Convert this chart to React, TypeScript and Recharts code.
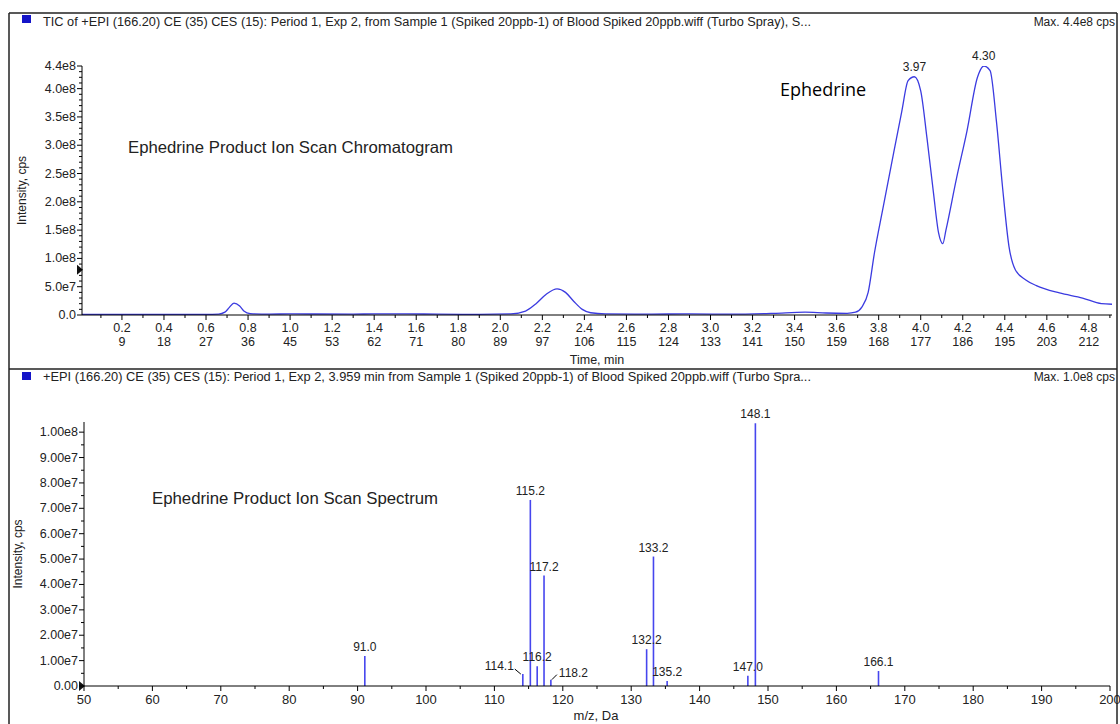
import React from 'react';
import { LineChart, Line, XAxis, YAxis, BarChart, Bar, LabelList, ReferenceDot } from 'recharts';

// TIC chromatogram (time in min, intensity in 1e8 cps)
const ticTimes = [
    0.01, 0.3, 0.6, 0.66, 0.69, 0.71, 0.733, 0.76, 0.78, 0.81, 0.9, 1.0, 1.1, 1.3, 1.4, 1.55, 1.7, 1.9,
    2.05, 2.12, 2.17, 2.22, 2.27, 2.31, 2.35, 2.39, 2.43, 2.5, 2.7, 2.9, 3.1, 3.3, 3.45, 3.55, 3.65,
    3.69, 3.72, 3.75, 3.78, 3.82, 3.86, 3.91, 3.94, 3.97, 4.0, 4.03, 4.06, 4.085, 4.105, 4.12, 4.17,
    4.22, 4.27, 4.3, 4.33, 4.36, 4.39, 4.42, 4.45, 4.5, 4.55, 4.66, 4.77, 4.86, 4.91,
];
const ticIntensity = [
    0.01, 0.012, 0.012, 0.015, 0.05, 0.13, 0.21, 0.16, 0.07, 0.025, 0.015, 0.02, 0.018, 0.015, 0.02, 0.02, 0.015, 0.012,
    0.02, 0.07, 0.2, 0.37, 0.46, 0.4, 0.24, 0.1, 0.04, 0.02, 0.015, 0.02, 0.015, 0.03, 0.05, 0.035, 0.03,
    0.05, 0.14, 0.4, 1.1, 1.88, 2.65, 3.6, 4.14, 4.21, 3.96, 3.12, 2.18, 1.45, 1.26, 1.5, 2.41,
    3.25, 4.2, 4.4, 4.32, 3.43, 2.23, 1.21, 0.8, 0.62, 0.52, 0.39, 0.3, 0.2, 0.19,
];
const ticPeakLabels = ['3.97', '4.30'];

const timeLabels = ['0.2', '0.4', '0.6', '0.8', '1.0', '1.2', '1.4', '1.6', '1.8', '2.0', '2.2', '2.4',
    '2.6', '2.8', '3.0', '3.2', '3.4', '3.6', '3.8', '4.0', '4.2', '4.4', '4.6', '4.8'];
const scanLabels = ['9', '18', '27', '36', '45', '53', '62', '71', '80', '89', '97', '106',
    '115', '124', '133', '141', '150', '159', '168', '177', '186', '195', '203', '212'];
const ticYLabels = ['0.0', '5.0e7', '1.0e8', '1.5e8', '2.0e8', '2.5e8', '3.0e8', '3.5e8', '4.0e8', '4.4e8'];

// product ion spectrum (m/z, intensity in 1e7 cps)
const mzValues = [91.0, 114.1, 115.2, 116.2, 117.2, 118.2, 132.2, 133.2, 135.2, 147.0, 148.1, 166.1];
const mzIntensity = [1.18, 0.47, 7.33, 0.78, 4.35, 0.25, 1.45, 5.1, 0.2, 0.4, 10.35, 0.59];
const mzXLabels = ['50', '60', '70', '80', '90', '100', '110', '120', '130', '140', '150', '160', '170', '180', '190', '200'];
const mzYLabels = ['0.00', '1.00e7', '2.00e7', '3.00e7', '4.00e7', '5.00e7', '6.00e7', '7.00e7', '8.00e7', '9.00e7', '1.00e8'];

const BLUE = '#3b3be0';
const FONT = '"Liberation Sans", Arial, sans-serif';

const ticData = ticTimes.map((t, i) => ({
    t,
    v: ticIntensity[i] * 1e8,
    peak: ticPeakLabels.includes(t.toFixed(2)) ? t.toFixed(2) : '',
}));
const specData = mzValues.map((mz, i) => ({ mz, v: mzIntensity[i] * 1e7, label: mz.toFixed(1) }));

const ticXTicks = Array.from({ length: 49 }, (_, i) => (i + 1) / 10);
const ticYTicks = Array.from({ length: 45 }, (_, i) => i * 1e7);
const specXTicks = Array.from({ length: 31 }, (_, i) => 50 + i * 5);
const specYTicks = Array.from({ length: 21 }, (_, i) => i * 5e6);

const labelSide: Record<string, string> = { '114.1': 'left', '118.2': 'right' };

const TimeTick = ({ x, y, payload }: any) => {
    const idx = timeLabels.indexOf(Number(payload.value).toFixed(1));
    const major = idx >= 0;
    return (
        <g>
            <line x1={x} x2={x} y1={y} y2={y + (major ? 5 : 3)} stroke="#000" />
            {major && (
                <text x={x} y={y + 17} textAnchor="middle" fontSize={12.5} fill="#222" fontFamily={FONT}>
                    {timeLabels[idx]}
                </text>
            )}
            {major && (
                <text x={x} y={y + 31} textAnchor="middle" fontSize={12.5} fill="#222" fontFamily={FONT}>
                    {scanLabels[idx]}
                </text>
            )}
        </g>
    );
};

const TicYTick = ({ x, y, payload }: any) => {
    const lab = ticYLabels.find((l) => Math.round(Number(l) / 1e6) === Math.round(payload.value / 1e6));
    return (
        <g>
            <line x1={x} x2={x - (lab ? 5 : 3)} y1={y} y2={y} stroke="#000" />
            {lab && (
                <text x={x - 6} y={y + 4} textAnchor="end" fontSize={12.5} fill="#222" fontFamily={FONT}>
                    {lab}
                </text>
            )}
        </g>
    );
};

const MzXTick = ({ x, y, payload }: any) => {
    const lab = mzXLabels.find((l) => Number(l) === payload.value);
    return (
        <g>
            <line x1={x} x2={x} y1={y} y2={y + (lab ? 5 : 3)} stroke="#000" />
            {lab && (
                <text x={x} y={y + 18} textAnchor="middle" fontSize={13} fill="#222" fontFamily={FONT}>
                    {lab}
                </text>
            )}
        </g>
    );
};

const MzYTick = ({ x, y, payload }: any) => {
    const lab = mzYLabels.find((l) => Math.round(Number(l) / 1e5) === Math.round(payload.value / 1e5));
    return (
        <g>
            <line x1={x} x2={x - (lab ? 5 : 3)} y1={y} y2={y} stroke="#000" />
            {lab && (
                <text x={x - 6} y={y + 4} textAnchor="end" fontSize={12.5} fill="#222" fontFamily={FONT}>
                    {lab}
                </text>
            )}
        </g>
    );
};

const TicPeakLabel = ({ x, y, value }: any) => {
    if (!value) return null;
    return (
        <text x={x} y={y - 6} textAnchor="middle" fontSize={12} fill="#222" fontFamily={FONT}>
            {value}
        </text>
    );
};

const MzPeakLabel = ({ x, y, width, value }: any) => {
    const cx = x + width / 2;
    const side = labelSide[value];
    if (side === 'left') {
        return (
            <g>
                <line x1={cx - 2} y1={y} x2={cx - 8} y2={y - 5} stroke="#000" />
                <text x={cx - 9} y={y - 4} textAnchor="end" fontSize={12} fill="#222" fontFamily={FONT}>{value}</text>
            </g>
        );
    }
    if (side === 'right') {
        return (
            <g>
                <line x1={cx + 1} y1={y} x2={cx + 6} y2={y - 5} stroke="#000" />
                <text x={cx + 8} y={y - 3} textAnchor="start" fontSize={12} fill="#222" fontFamily={FONT}>{value}</text>
            </g>
        );
    }
    return (
        <text x={cx} y={y - 5} textAnchor="middle" fontSize={12} fill="#222" fontFamily={FONT}>
            {value}
        </text>
    );
};

const Marker = ({ cx, cy }: any) => (
    <polygon points={`${cx - 5},${cy - 5} ${cx + 1},${cy} ${cx - 5},${cy + 5}`} fill="#111" />
);

export default function App() {
    return (
        <div style={{ position: 'absolute', left: 0, top: 0, width: 1120, height: 724, background: '#fff', fontFamily: FONT }}>
            <div style={{ position: 'absolute', left: 0, top: 0 }}>
                <LineChart width={1120} height={372} data={ticData} margin={{ top: 66, right: 8, left: 0, bottom: 7 }}>
                    <XAxis
                        dataKey="t"
                        type="number"
                        domain={[0.01, 4.91]}
                        ticks={ticXTicks}
                        interval={0}
                        tick={<TimeTick />}
                        tickLine={false}
                        tickSize={0}
                        tickMargin={0}
                        height={50}
                        axisLine={{ stroke: '#000' }}
                        allowDataOverflow
                    />
                    <YAxis
                        type="number"
                        domain={[0, 4.4e8]}
                        ticks={ticYTicks}
                        interval={0}
                        tick={<TicYTick />}
                        tickLine={false}
                        tickSize={0}
                        tickMargin={0}
                        width={82}
                        axisLine={{ stroke: '#000' }}
                        allowDataOverflow
                        label={{ value: 'Intensity, cps', angle: -90, position: 'insideLeft', offset: 22, style: { textAnchor: 'middle', fontSize: 12, fill: '#222', fontFamily: FONT } }}
                    />
                    <Line type="monotone" dataKey="v" stroke={BLUE} strokeWidth={1.3} dot={false} isAnimationActive={false}>
                        <LabelList dataKey="peak" content={<TicPeakLabel />} />
                    </Line>
                    <ReferenceDot x={0.01} y={8e7} r={0} shape={<Marker />} />
                </LineChart>
            </div>
            <div style={{ position: 'absolute', left: 0, top: 370 }}>
                <BarChart width={1120} height={354} data={specData} margin={{ top: 52, right: 10, left: 0, bottom: 8 }}>
                    <XAxis
                        dataKey="mz"
                        type="number"
                        domain={[50, 200]}
                        ticks={specXTicks}
                        interval={0}
                        tick={<MzXTick />}
                        tickLine={false}
                        tickSize={0}
                        tickMargin={0}
                        height={30}
                        axisLine={{ stroke: '#000' }}
                    />
                    <YAxis
                        type="number"
                        domain={[0, 1.04e8]}
                        ticks={specYTicks}
                        interval={0}
                        tick={<MzYTick />}
                        tickLine={false}
                        tickSize={0}
                        tickMargin={0}
                        width={84}
                        axisLine={{ stroke: '#000' }}
                        allowDataOverflow
                        label={{ value: 'Intensity, cps', angle: -90, position: 'insideLeft', offset: 18, style: { textAnchor: 'middle', fontSize: 12, fill: '#222', fontFamily: FONT } }}
                    />
                    <Bar dataKey="v" fill="#4646ee" barSize={1.6} isAnimationActive={false}>
                        <LabelList dataKey="label" content={<MzPeakLabel />} />
                    </Bar>
                    <ReferenceDot x={50} y={0} r={0} shape={<Marker />} />
                </BarChart>
            </div>
            <svg width={1120} height={724} style={{ position: 'absolute', left: 0, top: 0, pointerEvents: 'none' }} fontFamily={FONT}>
                <line x1={9} y1={13} x2={1117} y2={13} stroke="#222" strokeWidth={1.5} />
                <line x1={9} y1={13} x2={9} y2={724} stroke="#222" strokeWidth={1.5} />
                <line x1={1117} y1={13} x2={1117} y2={724} stroke="#222" strokeWidth={1.5} />
                <line x1={9} y1={369} x2={1117} y2={369} stroke="#222" strokeWidth={1.5} />
                <rect x={22} y={15} width={9} height={8} fill="#1414c8" />
                <rect x={22} y={372} width={9} height={8} fill="#1414c8" />
                <text x={43} y={26} fontSize={12} fill="#222" textLength={768} lengthAdjust="spacingAndGlyphs">
                    TIC of +EPI (166.20) CE (35) CES (15): Period 1, Exp 2, from Sample 1 (Spiked 20ppb-1) of Blood Spiked 20ppb.wiff (Turbo Spray), S...
                </text>
                <text x={1115} y={26} fontSize={12} fill="#222" textAnchor="end">Max. 4.4e8 cps</text>
                <text x={43} y={381} fontSize={12} fill="#222" textLength={768} lengthAdjust="spacingAndGlyphs">
                    +EPI (166.20) CE (35) CES (15): Period 1, Exp 2, 3.959 min from Sample 1 (Spiked 20ppb-1) of Blood Spiked 20ppb.wiff (Turbo Spra...
                </text>
                <text x={1115} y={381} fontSize={12} fill="#222" textAnchor="end">Max. 1.0e8 cps</text>
                <text x={128} y={153} fontSize={16.5} fill="#222" textLength={325} lengthAdjust="spacingAndGlyphs">Ephedrine Product Ion Scan Chromatogram</text>
                <text x={152} y={504} fontSize={16.5} fill="#222" textLength={286} lengthAdjust="spacingAndGlyphs">Ephedrine Product Ion Scan Spectrum</text>
                <text x={780} y={96} fontSize={18} fill="#000" fontFamily='"Open Sans", sans-serif'>Ephedrine</text>
                <text x={597} y={364} fontSize={12.5} fill="#222" textAnchor="middle">Time, min</text>
                <text x={596} y={720} fontSize={13} fill="#222" textAnchor="middle">m/z, Da</text>
            </svg>
        </div>
    );
}
